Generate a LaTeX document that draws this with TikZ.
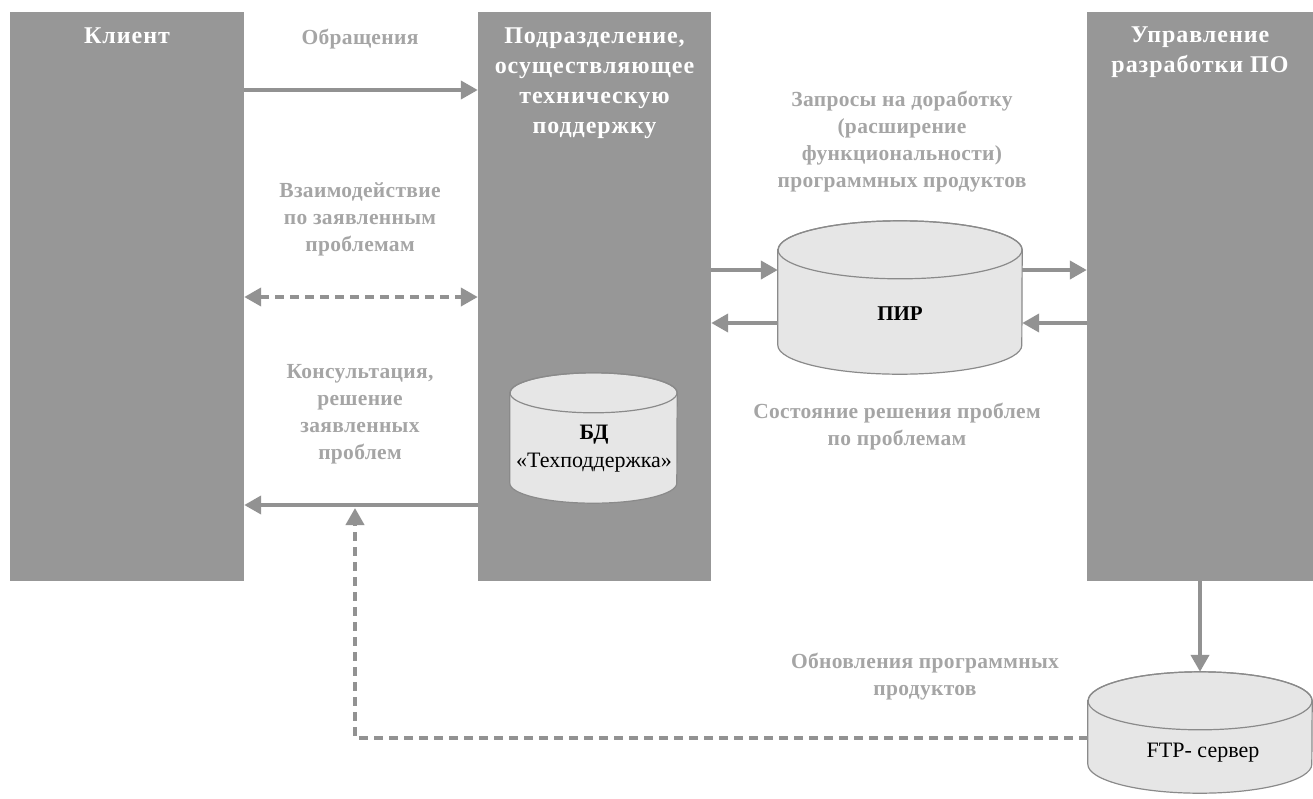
\documentclass[tikz,border=0pt]{standalone}
\usepackage{fontspec}
\setmainfont{Liberation Serif}
\newfontfamily\titlefont[LetterSpace=4]{Liberation Serif}
\newfontfamily\flowfont[LetterSpace=1.5]{Liberation Serif}
\usetikzlibrary{arrows.meta,calc}

\definecolor{colfill}{HTML}{979797}
\definecolor{linecol}{HTML}{929292}
\definecolor{labelgray}{HTML}{A5A5A5}
\definecolor{dbfill}{HTML}{E6E6E6}
\definecolor{dbline}{HTML}{8A8A8A}

\tikzset{
  column/.style={fill=colfill, draw=none, inner sep=0pt, minimum height=569},
  title/.style={text=white, font=\titlefont\bfseries\fontsize{24}{30}\selectfont, align=center},
  flowlabel/.style={text=labelgray, font=\flowfont\bfseries\fontsize{21.5}{27}\selectfont, align=center},
  dbtext/.style={text=black, font=\fontsize{22}{28}\selectfont, align=center},
  dbbody/.style={fill=dbfill, draw=dbline, line width=1.2pt},
  dbframe/.style={inner sep=0pt, draw=none},
  flow/.style={draw=linecol, line width=4pt, -{Triangle[length=17pt,width=18pt]}},
  dashflow/.style={flow, dash pattern=on 9pt off 6pt},
  dashboth/.style={dashflow, {Triangle[length=17pt,width=18pt]}-{Triangle[length=17pt,width=18pt]}},
}

% database drum drawn over a named frame node: #1 node, #2 x radius, #3 y radius
\newcommand\dbdrum[3]{%
  \filldraw[dbbody] ($(#1.north west)+(0,#3)$) -- ($(#1.south west)-(0,#3)$)
    arc[start angle=180, end angle=360, x radius=#2pt, y radius=#3pt]
    -- ($(#1.north east)+(0,#3)$)
    arc[start angle=0, end angle=180, x radius=#2pt, y radius=#3pt] -- cycle;
  \draw[dbbody, fill=none] ($(#1.north)+(0,#3)$) ellipse[x radius=#2pt, y radius=#3pt];
}

\begin{document}
\begin{tikzpicture}[x=1pt, y=-1pt]
\useasboundingbox (0,0) rectangle (1313,798);

% three organisational units
\node[column, minimum width=234] (client) at (127,296.5) {};
\node[column, minimum width=233] (sup) at (594.5,296.5) {};
\node[column, minimum width=226] (dev) at (1200,296.5) {};

\node[title] (clientT) at (127,36) {Клиент};
\node[title] (supT) at (594.5,83) {Подразделение,\\осуществляющее\\техническую\\поддержку};
\node[title] (devT) at (1200,52) {Управление\\разработки ПО};

% databases
\node[dbframe, minimum width=244, minimum height=153] (pir) at (900,297.5) {};
\dbdrum{pir}{122}{29}
\node[dbtext, font=\bfseries\fontsize{21}{28}\selectfont] (pirT) at (900,314) {ПИР};

\node[dbframe, minimum width=167, minimum height=130] (bd) at (593.5,438) {};
\dbdrum{bd}{83.5}{20}
\node[dbtext] (bdT) at (594,449) {\textbf{БД}\\«Техподдержка»};

\node[dbframe, minimum width=224, minimum height=121] (ftp) at (1200,732.5) {};
\dbdrum{ftp}{112}{29}
\node[dbtext] (ftpT) at (1203,753) {FTP- сервер};

% flow labels
\node[flowlabel] (l1) at (360,39) {Обращения};
\node[flowlabel] (l2) at (360,219) {Взаимодействие\\по заявленным\\проблемам};
\node[flowlabel] (l3) at (360,414) {Консультация,\\решение\\заявленных\\проблем};
\node[flowlabel] (l4) at (902,142) {Запросы на доработку\\(расширение\\функциональности)\\программных продуктов};
\node[flowlabel] (l5) at (897,427) {Состояние решения проблем\\по проблемам};
\node[flowlabel] (l6) at (925,677) {Обновления программных\\продуктов};

% connectors
\draw[flow] (client.east |- 0,90) -- (sup.west |- 0,90);
\draw[dashboth] (client.east |- 0,297) -- (sup.west |- 0,297);
\draw[flow] (sup.west |- 0,505) -- (client.east |- 0,505);

\draw[flow] (sup.east |- 0,270) -- (pir.west |- 0,270);
\draw[flow] (pir.east |- 0,270) -- (dev.west |- 0,270);
\draw[flow] (pir.west |- 0,323) -- (sup.east |- 0,323);
\draw[flow] (dev.west |- 0,323) -- (pir.east |- 0,323);

\draw[flow] (dev.south) -- (ftp.north);

\coordinate (upd) at (355,508);
\draw[dashflow] (ftp.west |- 0,738) -| (upd);
\end{tikzpicture}
\end{document}
